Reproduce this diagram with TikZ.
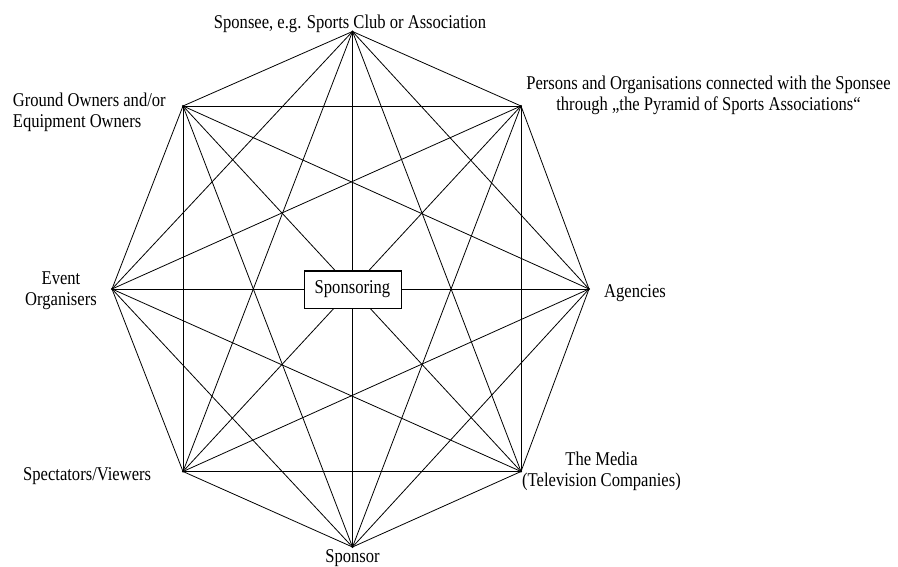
\documentclass[tikz,border=0pt]{standalone}
\usepackage{fontspec}
\setmainfont{Liberation Serif}[FakeStretch=0.85]
\usepackage{tikz}

\tikzset{
  edge/.style={line width=0.8pt},
  label/.style={inner sep=0pt, font=\fontsize{19.5}{21.5}\selectfont},
  centerbox/.style={draw, line width=1pt, fill=white, minimum width=97pt, minimum height=37pt, inner sep=0pt, font=\fontsize{19.5}{21.5}\selectfont}
}

\begin{document}
\begin{tikzpicture}[x=1pt, y=-1pt]
    \useasboundingbox (0,0) rectangle (898,567);

    \coordinate (sponsee)    at (352.5,31.5);
    \coordinate (persons)    at (521,106);
    \coordinate (agencies)   at (589,289);
    \coordinate (media)      at (521,471.5);
    \coordinate (sponsor)    at (352.5,547);
    \coordinate (spectators) at (183,471.5);
    \coordinate (event)      at (112,289);
    \coordinate (ground)     at (183,106);

    \node (Lsponsee)    [label, anchor=base] at (350,29) {Sponsee, e.g. Sports Club or Association};
    \node (Lpersons)    [label, anchor=north, align=center] at (708.5,75.7) {Persons and Organisations connected with the Sponsee\\through „the Pyramid of Sports Associations“};
    \node (Lagencies)   [label, anchor=base west] at (604,298) {Agencies};
    \node (Lmedia)      [label, anchor=north, align=center] at (601.5,451.7) {The Media\\(Television Companies)};
    \node (Lsponsor)    [label, anchor=base] at (352.5,562.5) {Sponsor};
    \node (Lspectators) [label, anchor=base west] at (23,480) {Spectators/Viewers};
    \node (Levent)      [label, anchor=north, align=center] at (61,271.1) {Event\\Organisers};
    \node (Lground)     [label, anchor=north west, align=left] at (12.7,92.7) {Ground Owners and/or\\Equipment Owners};

    \foreach \a/\b in {sponsee/persons, sponsee/agencies, sponsee/media, sponsee/sponsor,
                       sponsee/spectators, sponsee/event, sponsee/ground,
                       persons/agencies, persons/media, persons/sponsor, persons/spectators,
                       persons/event, persons/ground,
                       agencies/media, agencies/sponsor, agencies/spectators, agencies/event,
                       agencies/ground,
                       media/sponsor, media/spectators, media/event, media/ground,
                       sponsor/spectators, sponsor/event, sponsor/ground,
                       spectators/event, spectators/ground,
                       event/ground}
      \draw[edge] (\a) -- (\b);

    \foreach \v in {sponsee, persons, agencies, media, sponsor, spectators, event, ground}
      \fill (\v) circle (1.1pt);

    \node (sponsoring) [centerbox] at (352.5,289.5) {Sponsoring};
  \end{tikzpicture}
\end{document}
